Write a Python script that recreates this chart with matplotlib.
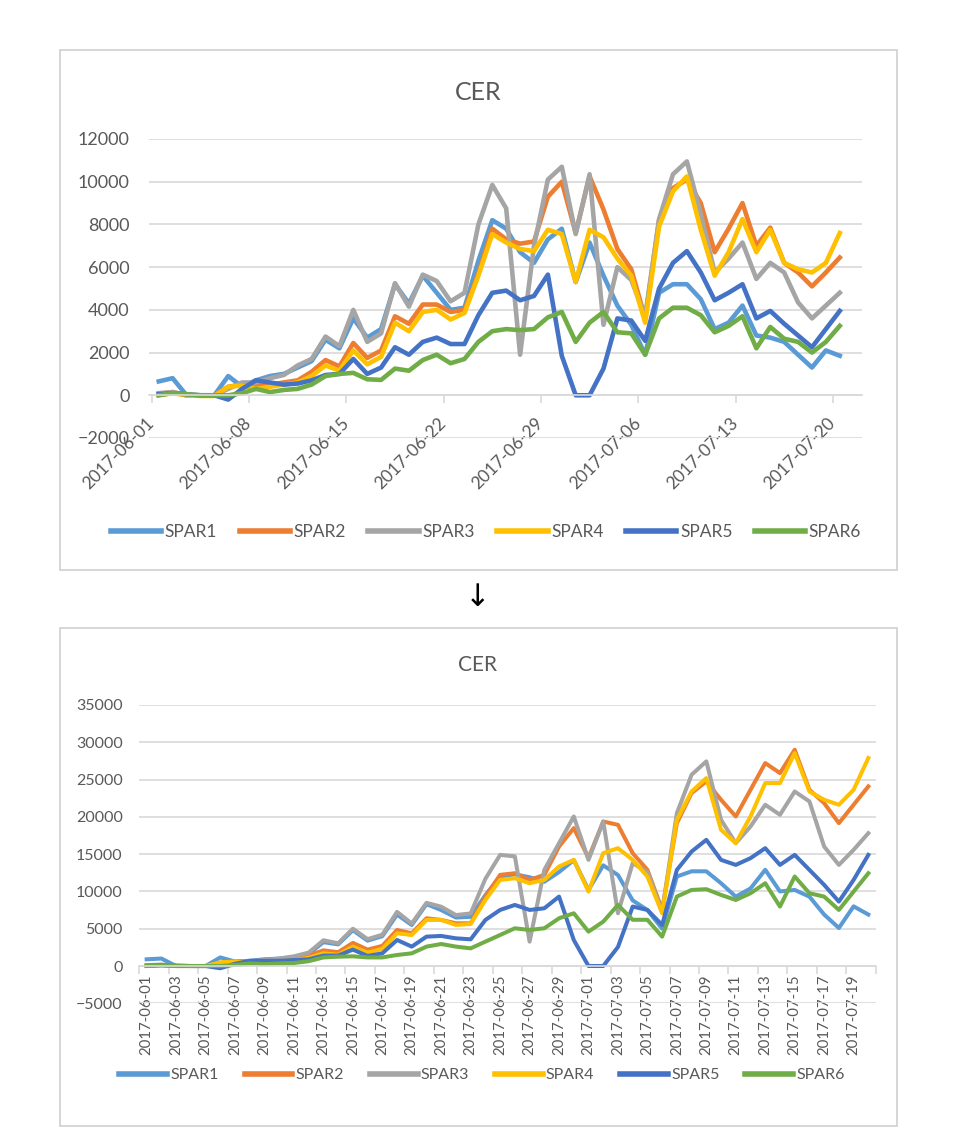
import numpy as np
import pandas as pd
import matplotlib
matplotlib.use("Agg")
import matplotlib.pyplot as plt
from matplotlib.patches import Rectangle

plt.rcParams['font.family'] = ['Lato', 'DejaVu Sans']

# --- categories ---
dates = pd.date_range('2017-06-01', '2017-07-20').strftime('%Y-%m-%d').tolist()
series_names = ['SPAR1', 'SPAR2', 'SPAR3', 'SPAR4', 'SPAR5', 'SPAR6']
colors = ['#5B9BD5', '#ED7D31', '#A5A5A5', '#FFC000', '#4472C4', '#70AD47']

# --- top chart values ---
top_spar1 = [650, 800, 0, 0, 0, 900, 400, 700, 900, 1000,
             1300, 1600, 2600, 2200, 3600, 2700, 3100, 5200, 4300, 5600,
             4800, 4000, 4100, 6300, 8200, 7800, 6700, 6200, 7300, 7800,
             5300, 7150, 5600, 4200, 3300, 1900, 4800, 5200, 5200, 4500,
             3100, 3400, 4200, 2800, 2700, 2500, 1900, 1300, 2100, 1850]
top_spar2 = [50, 150, 0, 0, 0, 400, 500, 500, 500, 600,
             700, 1100, 1650, 1350, 2450, 1750, 2100, 3700, 3350, 4250,
             4250, 3900, 4000, 5700, 7800, 7300, 7100, 7200, 9300, 10000,
             7600, 10250, 8700, 6850, 5900, 3600, 8200, 9700, 10100, 9000,
             6700, 7800, 9000, 7000, 7850, 6200, 5750, 5100, 5750, 6450]
top_spar3 = [100, 150, 0, 0, 0, 300, 600, 600, 800, 950,
             1400, 1700, 2750, 2300, 4000, 2500, 2900, 5250, 4150, 5650,
             5350, 4400, 4800, 8000, 9850, 8750, 1900, 7000, 10100, 10700,
             7550, 10350, 3300, 6000, 5400, 3700, 8250, 10350, 10950, 8500,
             5750, 6400, 7150, 5450, 6200, 5750, 4350, 3600, 4200, 4800]
top_spar4 = [0, 100, 0, -30, -30, 400, 450, 300, 400, 500,
             600, 900, 1400, 1150, 2100, 1450, 1800, 3400, 3000, 3900,
             4000, 3550, 3850, 5600, 7550, 7150, 6850, 6750, 7750, 7550,
             5300, 7750, 7400, 6400, 5600, 3400, 7900, 9550, 10250, 7750,
             5600, 6700, 8250, 6700, 7750, 6200, 5900, 5750, 6200, 7600]
top_spar5 = [50, 100, 50, 0, 0, -200, 300, 700, 600, 500,
             550, 700, 950, 1000, 1700, 1000, 1300, 2250, 1900, 2500,
             2700, 2400, 2400, 3750, 4800, 4900, 4450, 4650, 5650, 1850,
             0, 0, 1250, 3600, 3500, 2550, 5000, 6200, 6750, 5750,
             4450, 4800, 5200, 3600, 3950, 3350, 2800, 2250, 3100, 3950]
top_spar6 = [0, 100, 50, 0, 0, 0, 100, 300, 150, 250,
             300, 500, 900, 1000, 1050, 750, 720, 1250, 1150, 1650,
             1900, 1500, 1700, 2500, 3000, 3100, 3050, 3100, 3650, 3900,
             2500, 3400, 3900, 2950, 2900, 1900, 3600, 4100, 4100, 3750,
             2950, 3250, 3700, 2200, 3200, 2650, 2500, 2000, 2500, 3250]

# --- bottom chart values ---
bot_spar1 = [900, 1000, 0, 0, 0, 1150, 600, 700, 900, 1000,
             1200, 1600, 3200, 2900, 4800, 3400, 4000, 6900, 5500, 8300,
             7500, 6500, 6600, 9500, 12000, 12300, 11900, 11300, 12600, 14200,
             10200, 13500, 12200, 8800, 7500, 5000, 12000, 12700, 12700, 11100,
             9300, 10400, 12900, 10000, 10200, 9300, 6900, 5100, 8000, 6900]
bot_spar2 = [50, 150, 0, 0, 0, 400, 600, 600, 700, 800,
             1000, 1400, 2100, 1850, 3100, 2200, 2700, 4830, 4390, 6400,
             6180, 5730, 5730, 9310, 12220, 12440, 11550, 12220, 16020, 18490,
             14500, 19380, 18930, 15130, 12900, 7520, 19160, 23190, 24750, 22290,
             20050, 23630, 27210, 25870, 29000, 23630, 21840, 19160, 21620, 24080]
bot_spar3 = [100, 200, 0, 0, 0, 400, 600, 600, 800, 1000,
             1300, 1800, 3450, 3050, 5000, 3600, 4200, 7260, 5700, 8470,
             7950, 6830, 7050, 11700, 14900, 14700, 3270, 12890, 16470, 20050,
             14230, 19380, 7070, 13800, 12600, 7300, 20500, 25650, 27440, 19600,
             16470, 18710, 21620, 20280, 23400, 22070, 16020, 13560, 15580, 17810]
bot_spar4 = [0, 100, 0, 0, 0, 500, 600, 450, 550, 650,
             800, 1100, 1700, 1500, 2600, 1800, 2300, 4390, 4160, 6180,
             6180, 5510, 5640, 8860, 11550, 11770, 11100, 11550, 13340, 14230,
             9980, 15130, 15800, 14230, 12000, 7070, 19600, 23400, 25200, 18260,
             16470, 20050, 24530, 24530, 28560, 23400, 22290, 21620, 23630, 27890]
bot_spar5 = [50, 100, 50, 0, 0, -300, 300, 700, 700, 700,
             800, 900, 1400, 1400, 2200, 1350, 1700, 3490, 2600, 3940,
             4030, 3710, 3580, 6180, 7520, 8190, 7520, 7740, 9310, 3490,
             0, 0, 2550, 7970, 7520, 5500, 12890, 15350, 16920, 14230,
             13560, 14460, 15800, 13560, 14900, 12890, 10880, 8640, 11550, 14900]
bot_spar6 = [0, 100, 50, 0, 0, 0, 150, 350, 250, 350,
             400, 650, 1150, 1250, 1300, 1150, 1150, 1480, 1700, 2600,
             2950, 2600, 2370, 3270, 4160, 5060, 4830, 5060, 6400, 7070,
             4610, 5950, 8190, 6200, 6200, 3940, 9310, 10200, 10300, 9530,
             8860, 9760, 11100, 7970, 12000, 9760, 9310, 7520, 9980, 12440]

top_data = [top_spar1, top_spar2, top_spar3, top_spar4, top_spar5, top_spar6]
bot_data = [bot_spar1, bot_spar2, bot_spar3, bot_spar4, bot_spar5, bot_spar6]

W, H = 979, 1136
fig = plt.figure(figsize=(W / 100, H / 100), dpi=100)
fig.patch.set_facecolor('white')

def fx(px):
    return px / W

def fy(py):
    return 1 - py / H

grid_c = '#D9D9D9'
text_c = '#595959'

# chart borders
for (x0, y0, x1, y1) in [(60, 50, 897, 570), (60, 628, 897, 1126)]:
    fig.add_artist(Rectangle((fx(x0), fy(y1)), fx(x1 - x0), (y1 - y0) / H,
                             transform=fig.transFigure, fill=False,
                             edgecolor='#D0D0D0', linewidth=1.2))

x = np.arange(len(dates))

def style_axes(ax):
    for s in ['top', 'right', 'left']:
        ax.spines[s].set_visible(False)
    ax.spines['bottom'].set_position(('data', 0))
    ax.spines['bottom'].set_color(grid_c)
    ax.spines['bottom'].set_linewidth(1.2)
    ax.set_axisbelow(True)
    ax.yaxis.grid(True, color=grid_c, linewidth=1.2)
    ax.tick_params(axis='y', length=0, colors=text_c)
    ax.set_facecolor('none')

# --- top chart ---
ax1 = fig.add_axes([fx(149), fy(438), fx(862 - 149), (438 - 139) / H])
for vals, c in zip(top_data, colors):
    ax1.plot(x, vals, color=c, linewidth=3.3, solid_joinstyle='round')
ax1.set_xlim(-0.7, 50.6)
ax1.set_ylim(-2000, 12000)
ax1.set_yticks(np.arange(-2000, 12001, 2000))
ax1.tick_params(axis='y', labelsize=13, pad=14)
style_axes(ax1)
tk = np.arange(0, 50, 7)
ax1.set_xticks(tk - 0.5)
ax1.set_xticklabels([dates[i] for i in tk], rotation=45, ha='right', va='center',
                    rotation_mode='anchor', fontsize=12.5, color=text_c)
ax1.tick_params(axis='x', length=6, color=grid_c, width=1.2, pad=12)
fig.text(fx(478), fy(93), 'CER', ha='center', va='center', fontsize=18, color=text_c)

# --- bottom chart ---
ax2 = fig.add_axes([fx(139.3), fy(1003.3), fx(875.7 - 139.3), (1003.3 - 705) / H])
for vals, c in zip(bot_data, colors):
    ax2.plot(x, vals, color=c, linewidth=2.9, solid_joinstyle='round')
ax2.set_xlim(-0.5, 49.5)
ax2.set_ylim(-5000, 35000)
ax2.set_yticks(np.arange(-5000, 35001, 5000))
ax2.tick_params(axis='y', labelsize=11.5, pad=12)
style_axes(ax2)
lb = np.arange(0, 50, 2)
ax2.set_xticks(lb)
ax2.set_xticklabels([dates[i] for i in lb], rotation=90, fontsize=10.8, color=text_c)
ax2.tick_params(axis='x', which='major', length=0, pad=6)
ax2.set_xticks(np.arange(-0.5, 50, 2), minor=True)
ax2.tick_params(axis='x', which='minor', length=6, color=grid_c, width=1.2)
fig.text(fx(478), fy(665), 'CER', ha='center', va='center', fontsize=15, color=text_c)

# arrow between charts
fig.text(fx(478), fy(598), '\u2193', ha='center', va='center', fontsize=22,
         color='black', family='DejaVu Sans')

# legends
handles = [plt.Line2D([], [], color=c, linewidth=4) for c in colors]
fig.legend(handles, series_names, loc='center', bbox_to_anchor=(fx(486), fy(532)),
           ncol=6, frameon=False, fontsize=12.5, handlelength=2.9,
           handletextpad=0.2, columnspacing=1.3, labelcolor=text_c)
fig.legend(handles, series_names, loc='center', bbox_to_anchor=(fx(482), fy(1075)),
           ncol=6, frameon=False, fontsize=11.5, handlelength=3.0,
           handletextpad=0.2, columnspacing=1.6, labelcolor=text_c)

fig.savefig('out.png', dpi=100, facecolor='white')
